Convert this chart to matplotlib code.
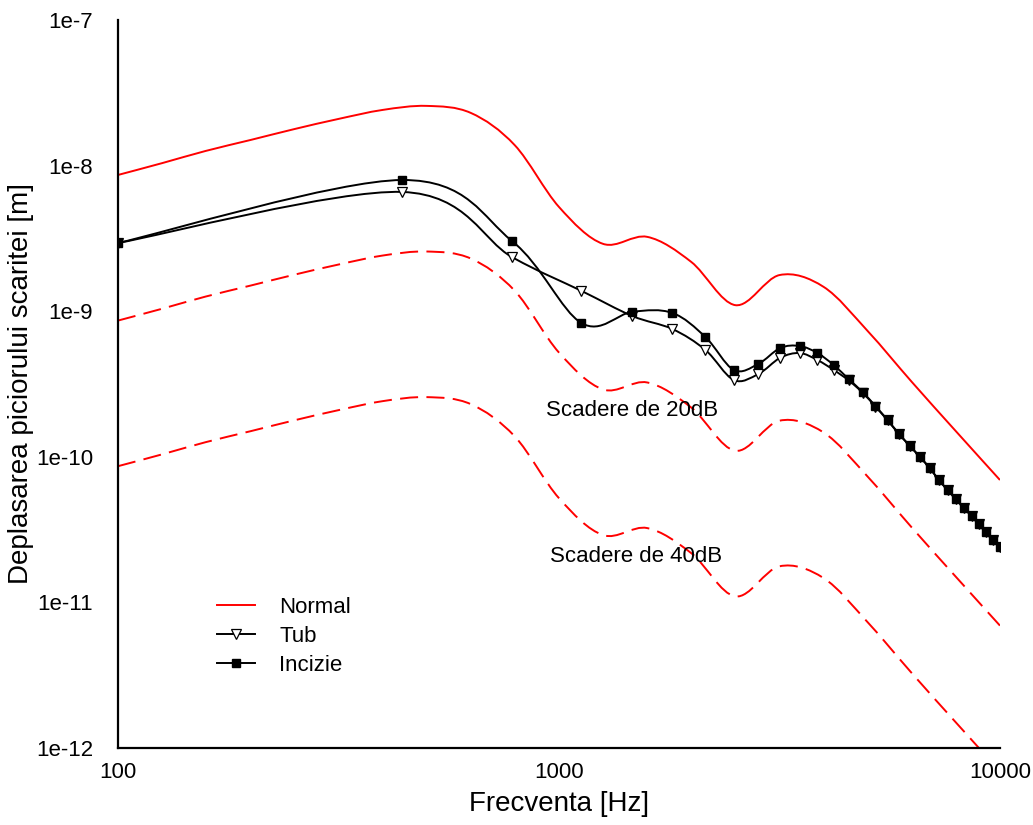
import numpy as np
import matplotlib
matplotlib.use("Agg")
import matplotlib.pyplot as plt
from matplotlib.path import Path
from matplotlib.patches import PathPatch
from matplotlib.lines import Line2D

plt.rcParams['font.family'] = ['Liberation Sans', 'DejaVu Sans']
plt.rcParams['lines.scale_dashes'] = False

# Normal ear: stapes footplate displacement vs frequency
normal_freq = [100, 126, 158, 200, 251, 316, 398, 501, 631, 794, 1000, 1259,
               1585, 1995, 2512, 3162, 3981, 5012, 6310, 7943, 10000]
normal_disp = [8.62e-9, 1.04e-8, 1.26e-8, 1.50e-8, 1.78e-8, 2.09e-8, 2.41e-8,
               2.57e-8, 2.30e-8, 1.38e-8, 5.20e-9, 2.90e-9, 3.24e-9, 2.18e-9,
               1.10e-9, 1.77e-9, 1.47e-9, 7.31e-10, 3.27e-10, 1.50e-10,
               6.93e-11]
# 20 dB and 40 dB reductions of the normal response
normal_20db = [v / 10 for v in normal_disp]
normal_40db = [v / 100 for v in normal_disp]

# Measured cases (tube, incision)
case_freq = [100, 441, 783, 1124, 1466, 1807, 2148, 2490, 2831, 3172, 3514,
             3855, 4197, 4538, 4879, 5221, 5562, 5903, 6245, 6586, 6928, 7269,
             7610, 7952, 8293, 8634, 8976, 9317, 9659, 10000]
tub_disp = [2.94e-9, 6.59e-9, 2.35e-9, 1.38e-9, 9.27e-10, 7.55e-10, 5.42e-10,
            3.37e-10, 3.70e-10, 4.78e-10, 5.16e-10, 4.62e-10, 3.95e-10,
            3.35e-10, 2.76e-10, 2.21e-10, 1.78e-10, 1.43e-10, 1.19e-10,
            9.97e-11, 8.38e-11, 6.93e-11, 5.92e-11, 5.13e-11, 4.45e-11,
            3.92e-11, 3.45e-11, 3.05e-11, 2.68e-11, 2.40e-11]
incizie_disp = [2.94e-9, 7.96e-9, 3.03e-9, 8.3e-10, 9.9e-10, 9.73e-10,
                6.65e-10, 3.95e-10, 4.34e-10, 5.58e-10, 5.77e-10, 5.16e-10,
                4.27e-10, 3.42e-10, 2.79e-10, 2.23e-10, 1.79e-10, 1.44e-10,
                1.19e-10, 9.97e-11, 8.38e-11, 6.93e-11, 5.92e-11, 5.13e-11,
                4.45e-11, 3.92e-11, 3.45e-11, 3.05e-11, 2.68e-11, 2.40e-11]

y_ticks = [1e-12, 1e-11, 1e-10, 1e-9, 1e-8, 1e-7]
y_ticklabels = ['1e-12', '1e-11', '1e-10', '1e-9', '1e-8', '1e-7']
x_ticks = [100, 1000, 10000]
x_ticklabels = ['100', '1000', '10000']


def smooth_path(x, y):
    """Catmull-Rom style Bezier through the points, built in log-log space."""
    lx = np.log10(np.asarray(x, float))
    ly = np.log10(np.asarray(y, float))
    p = np.column_stack([lx, ly])
    n = len(p)
    verts = [p[0]]
    codes = [Path.MOVETO]
    for i in range(n - 1):
        p0 = p[i - 1] if i > 0 else p[i]
        p1 = p[i]
        p2 = p[i + 1]
        p3 = p[i + 2] if i + 2 < n else p[i + 1]
        c1 = p1 + (p2 - p0) / 6.0
        c2 = p2 - (p3 - p1) / 6.0
        verts += [c1, c2, p2]
        codes += [Path.CURVE4] * 3
    verts = 10 ** np.array(verts)
    return Path(verts, codes)


fig = plt.figure(figsize=(10.33, 8.25), dpi=100)
ax = fig.add_axes([0.1142, 0.0933, 0.8538, 0.8825])
ax.set_xscale('log')
ax.set_yscale('log')
ax.set_xlim(100, 10000)
ax.set_ylim(1e-12, 1e-7)

red = '#ff0000'
lw = 1.4
ax.add_patch(PathPatch(smooth_path(normal_freq, normal_disp), fill=False,
                       edgecolor=red, linewidth=lw))
for vals in (normal_20db, normal_40db):
    ax.add_patch(PathPatch(smooth_path(normal_freq, vals), fill=False,
                           edgecolor=red, linewidth=lw,
                           linestyle=(0, (13, 6))))

ax.add_patch(PathPatch(smooth_path(case_freq, tub_disp), fill=False,
                       edgecolor='black', linewidth=lw, zorder=3))
ax.plot(case_freq, tub_disp, linestyle='none', marker='v', markersize=6.5,
        markerfacecolor='white', markeredgecolor='black',
        markeredgewidth=0.9, zorder=4)
ax.add_patch(PathPatch(smooth_path(case_freq, incizie_disp), fill=False,
                       edgecolor='black', linewidth=lw, zorder=5))
ax.plot(case_freq, incizie_disp, linestyle='none', marker='s', markersize=6,
        markerfacecolor='black', markeredgecolor='black', zorder=6)

ax.text(1464, 2.09e-10, 'Scadere de 20dB', fontsize=16, ha='center',
        va='center')
ax.text(1495, 2.08e-11, 'Scadere de 40dB', fontsize=16, ha='center',
        va='center')

handles = [
    Line2D([], [], color=red, linewidth=lw),
    Line2D([], [], color='black', linewidth=lw, marker='v', markersize=6.5,
           markerfacecolor='white', markeredgecolor='black',
           markeredgewidth=0.9),
    Line2D([], [], color='black', linewidth=lw, marker='s', markersize=6),
]
ax.legend(handles, ['Normal', 'Tub', 'Incizie'], loc='center left',
          bbox_to_anchor=(0.112, 0.153), frameon=False, fontsize=16,
          handlelength=1.72, handletextpad=1.1, labelspacing=0.36,
          borderpad=0, borderaxespad=0)

ax.set_xticks(x_ticks)
ax.set_xticklabels(x_ticklabels)
ax.set_yticks(y_ticks)
ax.set_yticklabels(y_ticklabels)
ax.xaxis.set_minor_locator(matplotlib.ticker.NullLocator())
ax.yaxis.set_minor_locator(matplotlib.ticker.NullLocator())
ax.tick_params(axis='both', length=0, labelsize=16)
ax.tick_params(axis='y', pad=18)
ax.tick_params(axis='x', pad=10)

for s in ('top', 'right'):
    ax.spines[s].set_visible(False)
for s in ('left', 'bottom'):
    ax.spines[s].set_linewidth(1.6)

ax.set_xlabel('Frecventa [Hz]', fontsize=20, labelpad=6)
ax.set_ylabel('Deplasarea piciorului scaritei [m]', fontsize=20,
              va='center')
ax.yaxis.set_label_coords(-0.110, 0.5)

fig.savefig('out.png', dpi=100)
